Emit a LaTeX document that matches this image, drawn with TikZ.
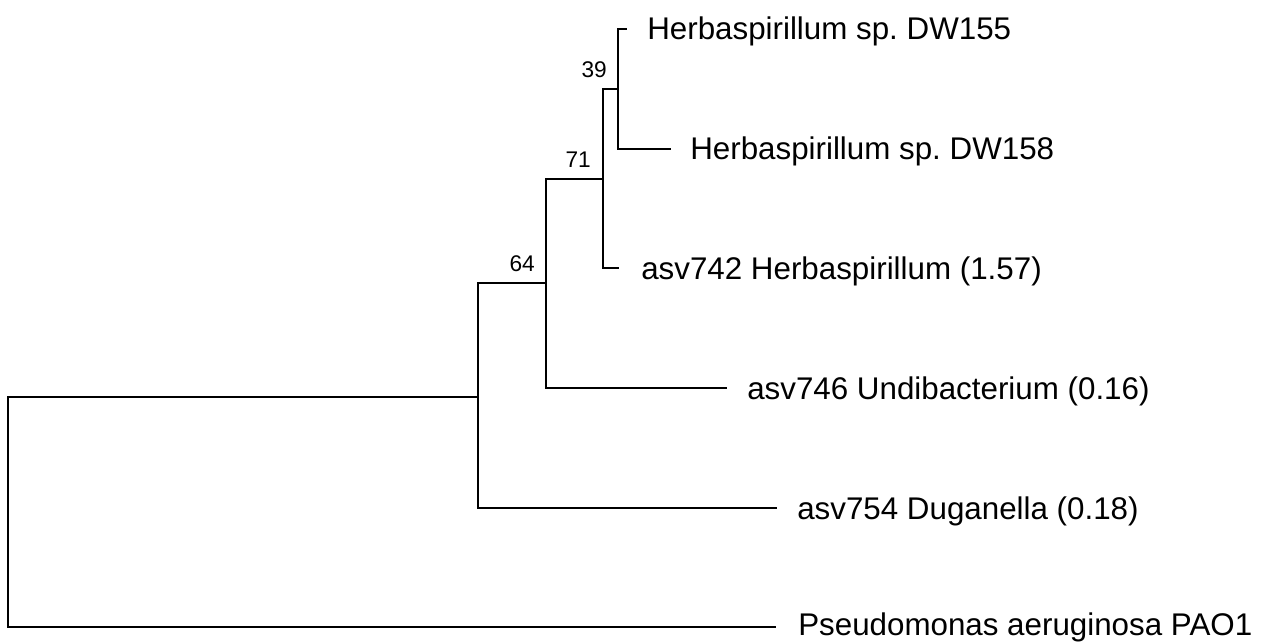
\documentclass[tikz,border=0pt]{standalone}
\usepackage{fontspec}
\setmainfont{Liberation Sans}
\begin{document}
\begin{tikzpicture}[x=0.75pt,y=-0.75pt,
  branch/.style={line width=1.4pt, line join=miter, line cap=rect},
  leaf/.style={anchor=base west, inner sep=0pt, font=\fontsize{23.5}{28}\selectfont},
  boot/.style={anchor=south east, inner sep=0pt, font=\fontsize{17}{20}\selectfont}]
\useasboundingbox (0,0) rectangle (1261,642);

% internal nodes of the tree
\coordinate (root) at (8,512);
\coordinate (n1)   at (478,397);
\coordinate (n64)  at (546,283);
\coordinate (n71)  at (603,179);
\coordinate (n39)  at (618,89);

% tips
\coordinate (t155) at (626,29);
\coordinate (t158) at (670,149);
\coordinate (t742) at (618,268);
\coordinate (t746) at (726,388);
\coordinate (t754) at (776,508);
\coordinate (tpao) at (775,627);

% branches
\draw[branch] (root) |- (n1);
\draw[branch] (root) |- (tpao);
\draw[branch] (n1) |- (n64);
\draw[branch] (n1) |- (t754);
\draw[branch] (n64) |- (n71);
\draw[branch] (n64) |- (t746);
\draw[branch] (n71) |- (n39);
\draw[branch] (n71) |- (t742);
\draw[branch] (n39) |- (t155);
\draw[branch] (n39) |- (t158);

% tip labels
\node[leaf] (l155) at (647,40)  {Herbaspirillum sp.\ DW155};
\node[leaf] (l158) at (690,160) {Herbaspirillum sp.\ DW158};
\node[leaf] (l742) at (641,279) {asv742 Herbaspirillum (1.57)};
\node[leaf] (l746) at (747,399) {asv746 Undibacterium (0.16)};
\node[leaf] (l754) at (797,519) {asv754 Duganella (0.18)};
\node[leaf] (lpao) at (798,635) {Pseudomonas aeruginosa PAO1};

% bootstrap values
\node[boot] (b39) at (607,78)  {39};
\node[boot] (b71) at (591,168) {71};
\node[boot] (b64) at (535,272) {64};
\end{tikzpicture}
\end{document}
